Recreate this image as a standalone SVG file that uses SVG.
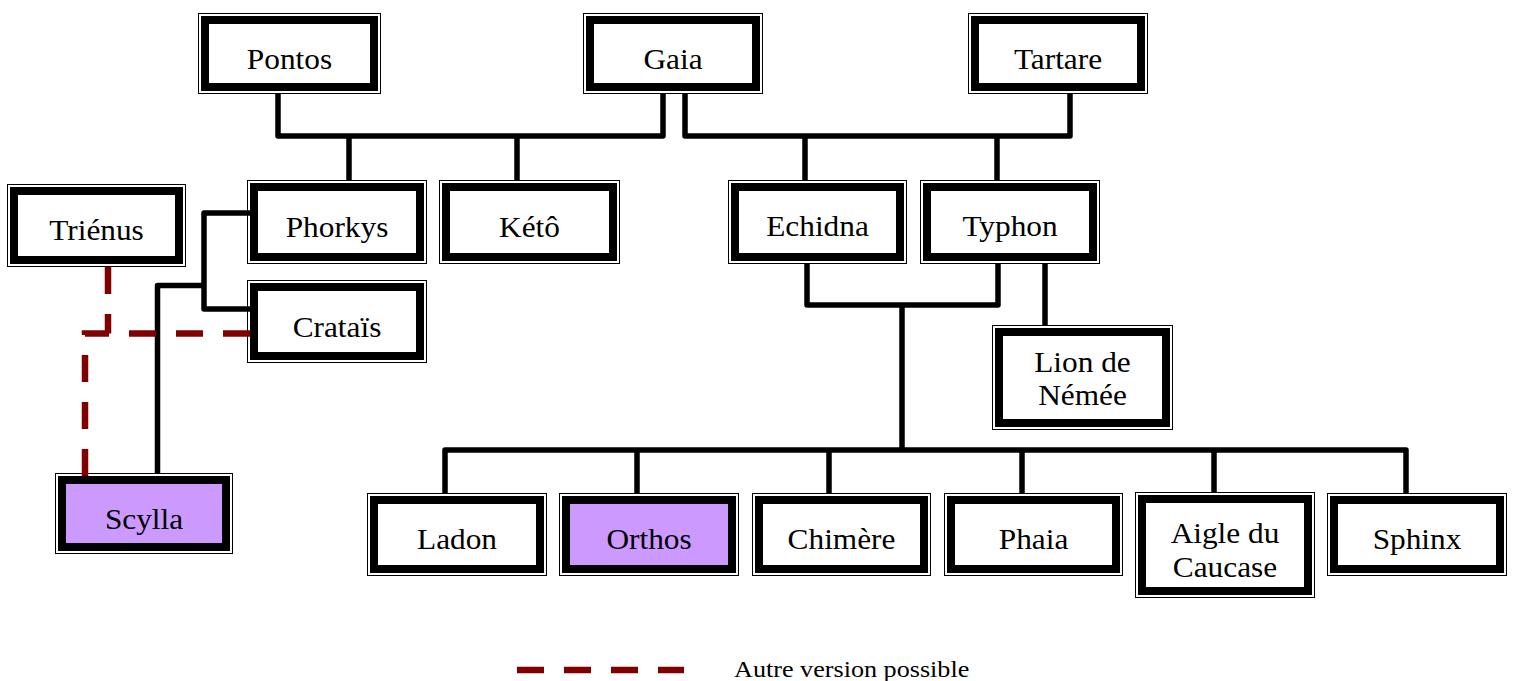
<svg xmlns="http://www.w3.org/2000/svg" width="1517" height="681" viewBox="0 0 1517 681">
<style>
.o{fill:#fff;stroke:#000;stroke-width:1}
.i{fill:#fff;stroke:#000;stroke-width:8}
.p{fill:#cc99ff}
.t{font-family:"Liberation Serif","Times New Roman",serif;font-size:29px;fill:#000;text-anchor:middle}
.lg{font-family:"Liberation Serif","Times New Roman",serif;font-size:24px;fill:#000}
.c{fill:none;stroke:#000;stroke-width:5.5;stroke-linejoin:round}
.d{fill:none;stroke:#800000;stroke-width:6.5;stroke-dasharray:27 20}
</style>
<rect width="1517" height="681" fill="#fff"/>
<g id="nodes">
<g id="pontos"><rect class="o" x="198.5" y="13.5" width="182" height="80"/><rect class="i" x="205" y="20" width="169" height="67"/><text class="t" transform="translate(289.5,69) scale(1.08,1)">Pontos</text></g>
<g id="gaia"><rect class="o" x="583.5" y="13.5" width="179" height="80"/><rect class="i" x="590" y="20" width="166" height="67"/><text class="t" transform="translate(673,69) scale(1.08,1)">Gaia</text></g>
<g id="tartare"><rect class="o" x="968.5" y="13.5" width="179" height="80"/><rect class="i" x="975" y="20" width="166" height="67"/><text class="t" transform="translate(1058,69) scale(1.08,1)">Tartare</text></g>
<g id="trienus"><rect class="o" x="7.5" y="184.5" width="178" height="82"/><rect class="i" x="14" y="191" width="165" height="69"/><text class="t" transform="translate(96.5,240) scale(1.08,1)">Triénus</text></g>
<g id="phorkys"><rect class="o" x="247.5" y="180.5" width="179" height="83"/><rect class="i" x="254" y="187" width="166" height="70"/><text class="t" transform="translate(337,237) scale(1.08,1)">Phorkys</text></g>
<g id="keto"><rect class="o" x="439.5" y="180.5" width="180" height="83"/><rect class="i" x="446" y="187" width="167" height="70"/><text class="t" transform="translate(529.5,237) scale(1.08,1)">Kétô</text></g>
<g id="echidna"><rect class="o" x="728.5" y="180.5" width="178" height="83"/><rect class="i" x="735" y="187" width="165" height="70"/><text class="t" transform="translate(817.5,236) scale(1.08,1)">Echidna</text></g>
<g id="typhon"><rect class="o" x="920.5" y="180.5" width="179" height="83"/><rect class="i" x="927" y="187" width="166" height="70"/><text class="t" transform="translate(1010,236) scale(1.08,1)">Typhon</text></g>
<g id="cratais"><rect class="o" x="247.5" y="280.5" width="179" height="82"/><rect class="i" x="254" y="287" width="166" height="69"/><text class="t" transform="translate(337,336.5) scale(1.08,1)">Crataïs</text></g>
<g id="lion"><rect class="o" x="992.5" y="325.5" width="180" height="104"/><rect class="i" x="999" y="332" width="167" height="91"/><text class="t" transform="translate(1082.5,372) scale(1.08,1)">Lion de</text><text class="t" transform="translate(1082.5,405) scale(1.08,1)">Némée</text></g>
<g id="scylla"><rect class="o" x="55.5" y="473.5" width="177" height="80"/><rect class="i p" x="62" y="480" width="164" height="67"/><text class="t" transform="translate(144,528.5) scale(1.08,1)">Scylla</text></g>
<g id="ladon"><rect class="o" x="367.5" y="493.5" width="179" height="82"/><rect class="i" x="374" y="500" width="166" height="69"/><text class="t" transform="translate(457,549) scale(1.08,1)">Ladon</text></g>
<g id="orthos"><rect class="o" x="559.5" y="493.5" width="179" height="82"/><rect class="i p" x="566" y="500" width="166" height="69"/><text class="t" transform="translate(649,549) scale(1.08,1)">Orthos</text></g>
<g id="chimere"><rect class="o" x="752.5" y="493.5" width="178" height="82"/><rect class="i" x="759" y="500" width="165" height="69"/><text class="t" transform="translate(841.5,549) scale(1.08,1)">Chimère</text></g>
<g id="phaia"><rect class="o" x="944.5" y="493.5" width="178" height="82"/><rect class="i" x="951" y="500" width="165" height="69"/><text class="t" transform="translate(1033.5,549) scale(1.08,1)">Phaia</text></g>
<g id="aigle"><rect class="o" x="1135.5" y="492.5" width="179" height="105"/><rect class="i" x="1142" y="499" width="166" height="92"/><text class="t" transform="translate(1225,543) scale(1.08,1)">Aigle du</text><text class="t" transform="translate(1225,577) scale(1.08,1)">Caucase</text></g>
<g id="sphinx"><rect class="o" x="1327.5" y="493.5" width="179" height="82"/><rect class="i" x="1334" y="500" width="166" height="69"/><text class="t" transform="translate(1417,549) scale(1.08,1)">Sphinx</text></g>
</g>
<g id="connectors">
<path class="c" d="M278,94 V136 H663 V94"/>
<path class="c" d="M349,136 V181"/>
<path class="c" d="M517,136 V181"/>
<path class="c" d="M685,94 V136 H1070 V94"/>
<path class="c" d="M805,136 V181"/>
<path class="c" d="M997,136 V181"/>
<path class="c" d="M807,263 V305 H998 V263"/>
<path class="c" d="M902,305 V450"/>
<path class="c" d="M1045,263 V326"/>
<path class="c" d="M445,494 V450 H1406 V494"/>
<path class="c" d="M637,450 V494"/>
<path class="c" d="M829,450 V494"/>
<path class="c" d="M1022,450 V494"/>
<path class="c" d="M1214,450 V493"/>
<path class="c" d="M250,213 H204 V309 H250"/>
<path class="c" d="M204,285.5 H157.5 V474"/>
<path class="d" d="M108,267 V333.5"/>
<path class="d" d="M85,476 V333.5 H108"/>
<path class="d" d="M250,333.5 H108"/>
</g>
<g id="legend">
<path class="d" d="M517,670 H684"/>
<text class="lg" transform="translate(734,677) scale(1.09,1)">Autre version possible</text>
</g>
</svg>
